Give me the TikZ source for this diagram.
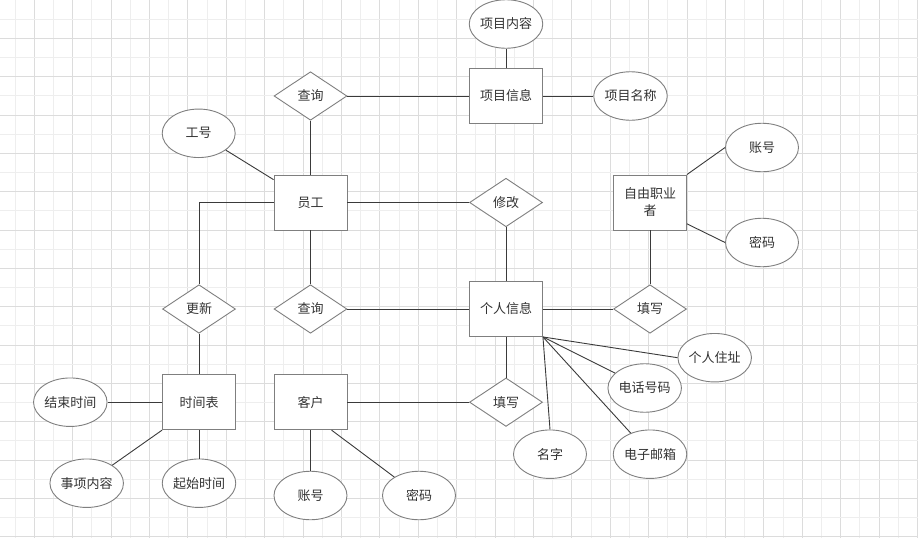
\documentclass[tikz,border=0pt]{standalone}
\usepackage{fontspec}
\setmainfont{Noto Sans CJK SC}
\usepackage{tikz}
\usetikzlibrary{calc, shapes.geometric}

\definecolor{gridmajor}{HTML}{DCDCDC}
\definecolor{gridminor}{HTML}{EEEEEE}
\definecolor{shapeline}{HTML}{7F7F7F}
\definecolor{linkline}{HTML}{3A3A3A}
\definecolor{labeltext}{HTML}{333333}

\begin{document}
\begin{tikzpicture}[x=1pt, y=-1pt, font=\fontsize{13}{17}\selectfont,
		entity/.style={rectangle, draw=shapeline, fill=white, line width=0.9pt, minimum width=73pt, minimum height=55pt, inner sep=0pt, align=center, text=labeltext},
		relation/.style={diamond, draw=shapeline, fill=white, line width=0.9pt, minimum width=73pt, minimum height=48.5pt, inner sep=0pt, text=labeltext},
		attribute/.style={ellipse, draw=shapeline, fill=white, line width=0.9pt, minimum width=73pt, minimum height=48.5pt, inner sep=0pt, text=labeltext},
		link/.style={draw=linkline, line width=0.9pt}]
			\def\gx{19.2};
			\def\gy{19.17};

			\useasboundingbox (0,0) rectangle (918,538);

			\begin{scope}[line width=0.9pt]
				\foreach \i in {0,2,...,46}
				{
					\draw [gridminor] (15+\i*\gx,0) -- ++(0,538);
					\draw [gridmajor] (15+\i*\gx+\gx,0) -- ++(0,538);
				}
				\foreach \j in {1,3,...,27}
				{
					\draw [gridminor] (0,\j*\gy) -- ++(918,0);
					\draw [gridmajor] (0,\j*\gy+\gy) -- ++(918,0);
				}
			\end{scope}

			\begin{scope}
				\node [entity] (staff) at (310.5,202.5) {员工};
				\node [entity] (project info) at (506,96) {项目信息};
				\node [entity] (freelancer) at (650,202.5) {自由职业\\者};
				\node [entity] (personal info) at (506,309) {个人信息};
				\node [entity] (schedule) at (199,402.2) {时间表};
				\node [entity] (client) at (310.5,402.2) {客户};
			\end{scope}

			\begin{scope}
				\node [relation] (top query) at (310.5,96) {查询};
				\node [relation] (modify) at (506,202.5) {修改};
				\node [relation] (update) at (199,309) {更新};
				\node [relation] (mid query) at (310.5,309) {查询};
				\node [relation] (fl fill) at (650,309) {填写};
				\node [relation] (client fill) at (506,402.2) {填写};
			\end{scope}

			\begin{scope}
				\node [attribute] (staff id) at (198.7,133.3) {工号};
				\node [attribute] (project content) at (506,24) {项目内容};
				\node [attribute] (project name) at (630.5,96) {项目名称};
				\node [attribute] (fl account) at (762,147.5) {账号};
				\node [attribute] (fl password) at (762,242.5) {密码};
				\node [attribute] (address) at (714.7,357.7) {个人住址};
				\node [attribute] (phone) at (644.7,388) {电话号码};
				\node [attribute] (name) at (550,454.2) {名字};
				\node [attribute] (email) at (650,454.2) {电子邮箱};
				\node [attribute] (end time) at (70.3,402.2) {结束时间};
				\node [attribute] (item content) at (86.7,483.2) {事项内容};
				\node [attribute] (start time) at (199,483.2) {起始时间};
				\node [attribute] (client account) at (310.5,495.5) {账号};
				\node [attribute] (client password) at (419,495.5) {密码};
			\end{scope}

			\begin{scope}[link]
				\draw (staff) -- (top query);
				\draw (top query) -- (project info);
				\draw (project info) -- (project content);
				\draw (project info) -- (project name);
				\draw (staff id) -- (staff);
				\draw (staff.west) -| (update.north);
				\draw (staff) -- (modify);
				\draw (modify) -- (personal info);
				\draw (staff) -- (mid query);
				\draw (mid query) -- (personal info);
				\draw (personal info) -- (fl fill);
				\draw (fl fill) -- (freelancer);
				\draw (freelancer.north east) -- (fl account.west);
				\draw (freelancer.-30) -- (fl password.west);
				\draw (personal info.south east) -- (address.west);
				\draw (personal info.south east) -- (phone);
				\draw (personal info.south east) -- (email);
				\draw (personal info.south east) -- (name.north);
				\draw (personal info) -- (client fill);
				\draw (client fill) -- (client);
				\draw (client) -- (client account);
				\draw (client.-53) -- (client password);
				\draw (update) -- (schedule);
				\draw (schedule) -- (end time);
				\draw (schedule) -- (start time);
				\draw (schedule.south west) -- (item content);
			\end{scope}
		\end{tikzpicture}
\end{document}
